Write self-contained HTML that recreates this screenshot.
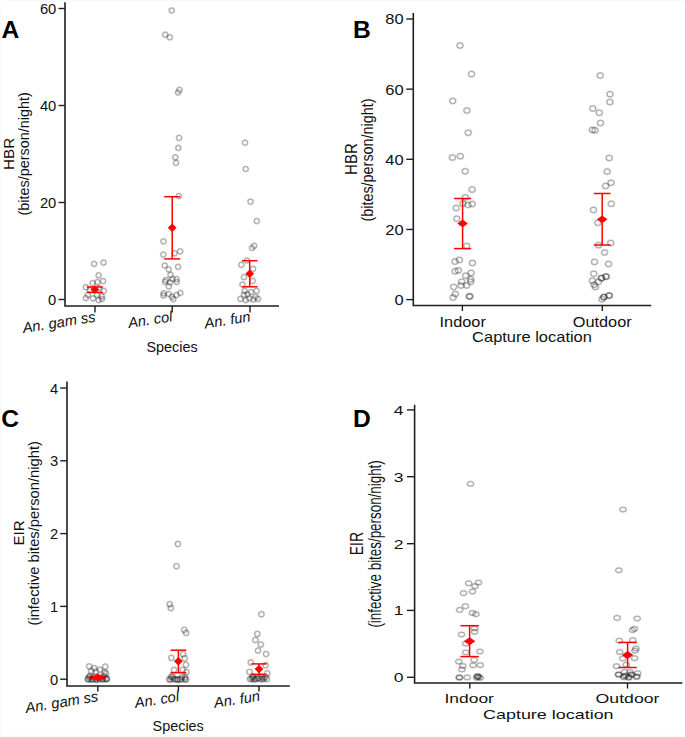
<!DOCTYPE html>
<html><head><meta charset="utf-8"><title>HBR and EIR plots</title>
<style>
html,body{margin:0;padding:0;background:#fff;overflow:hidden;}
svg{display:block;}
text{font-family:"Liberation Sans", sans-serif;}
</style></head><body>
<svg width="685" height="737" viewBox="0 0 685 737">
<rect width="685" height="737" fill="#fff"/>
<rect x="0" y="0" width="685" height="1" fill="#f9f9f9"/>
<rect x="0" y="735" width="685" height="2" fill="#fafafa"/>
<rect x="0" y="0" width="1" height="737" fill="#fbf9f9"/>
<g fill="none" stroke="#000" stroke-opacity="0.13" stroke-width="2.0">
<circle cx="94.1" cy="263.8" r="2.6"/>
<circle cx="103.5" cy="262.6" r="2.6"/>
<circle cx="98.6" cy="275.3" r="2.6"/>
<circle cx="92.6" cy="283.1" r="2.6"/>
<circle cx="97.4" cy="282.1" r="2.6"/>
<circle cx="103.1" cy="281.1" r="2.6"/>
<circle cx="85.8" cy="287.2" r="2.6"/>
<circle cx="103.8" cy="290.9" r="2.6"/>
<circle cx="87.9" cy="295" r="2.6"/>
<circle cx="85.8" cy="298.1" r="2.6"/>
<circle cx="93" cy="298.4" r="2.6"/>
<circle cx="97" cy="295" r="2.6"/>
<circle cx="101.8" cy="296.4" r="2.6"/>
<circle cx="98.7" cy="300.1" r="2.6"/>
<circle cx="102" cy="299" r="2.6"/>
<circle cx="90" cy="290" r="2.6"/>
<circle cx="99" cy="288" r="2.6"/>
<circle cx="171.7" cy="10.5" r="2.6"/>
<circle cx="165.3" cy="34.7" r="2.6"/>
<circle cx="169.8" cy="37.3" r="2.6"/>
<circle cx="179.5" cy="89.9" r="2.6"/>
<circle cx="178" cy="92.5" r="2.6"/>
<circle cx="179.1" cy="137.9" r="2.6"/>
<circle cx="178.3" cy="147.9" r="2.6"/>
<circle cx="175.3" cy="157.3" r="2.6"/>
<circle cx="176.0" cy="162.9" r="2.6"/>
<circle cx="178.8" cy="196.1" r="2.6"/>
<circle cx="163.5" cy="241.3" r="2.6"/>
<circle cx="163.3" cy="254.6" r="2.6"/>
<circle cx="174.5" cy="253.3" r="2.6"/>
<circle cx="180.2" cy="251.4" r="2.6"/>
<circle cx="164.7" cy="265.5" r="2.6"/>
<circle cx="178.1" cy="266.8" r="2.6"/>
<circle cx="168.8" cy="269.4" r="2.6"/>
<circle cx="170.5" cy="274.9" r="2.6"/>
<circle cx="165.0" cy="281.8" r="2.6"/>
<circle cx="166" cy="280" r="2.6"/>
<circle cx="170.1" cy="282.5" r="2.6"/>
<circle cx="172.4" cy="278.9" r="2.6"/>
<circle cx="176.5" cy="279.2" r="2.6"/>
<circle cx="176.7" cy="282" r="2.6"/>
<circle cx="168.8" cy="286.4" r="2.6"/>
<circle cx="163.7" cy="293.3" r="2.6"/>
<circle cx="163.4" cy="295.5" r="2.6"/>
<circle cx="168.8" cy="294" r="2.6"/>
<circle cx="171.9" cy="296.8" r="2.6"/>
<circle cx="173.4" cy="299.1" r="2.6"/>
<circle cx="176.5" cy="295" r="2.6"/>
<circle cx="180.3" cy="293" r="2.6"/>
<circle cx="245" cy="142.7" r="2.6"/>
<circle cx="245.7" cy="169" r="2.6"/>
<circle cx="250.5" cy="201.6" r="2.6"/>
<circle cx="256.8" cy="221.1" r="2.6"/>
<circle cx="254.2" cy="245.8" r="2.6"/>
<circle cx="252" cy="248" r="2.6"/>
<circle cx="241.4" cy="264.8" r="2.6"/>
<circle cx="253.1" cy="268.8" r="2.6"/>
<circle cx="244" cy="277.2" r="2.6"/>
<circle cx="252.7" cy="280.9" r="2.6"/>
<circle cx="242.5" cy="284.5" r="2.6"/>
<circle cx="244.6" cy="290.8" r="2.6"/>
<circle cx="256.6" cy="290.8" r="2.6"/>
<circle cx="244" cy="294.9" r="2.6"/>
<circle cx="247.5" cy="294.3" r="2.6"/>
<circle cx="251" cy="292" r="2.6"/>
<circle cx="240.5" cy="298.9" r="2.6"/>
<circle cx="245.8" cy="300.1" r="2.6"/>
<circle cx="249.3" cy="298.4" r="2.6"/>
<circle cx="253.4" cy="299.5" r="2.6"/>
<circle cx="258" cy="298.9" r="2.6"/>
<circle cx="255.5" cy="297" r="2.6"/>
<circle cx="247" cy="260.5" r="2.6"/>
<ellipse cx="460" cy="45.5" rx="3.1" ry="2.75"/>
<ellipse cx="471.5" cy="74.1" rx="3.1" ry="2.75"/>
<ellipse cx="452.7" cy="101" rx="3.1" ry="2.75"/>
<ellipse cx="466.9" cy="110.6" rx="3.1" ry="2.75"/>
<ellipse cx="468.2" cy="132.7" rx="3.1" ry="2.75"/>
<ellipse cx="452.4" cy="157.5" rx="3.1" ry="2.75"/>
<ellipse cx="460.3" cy="156.2" rx="3.1" ry="2.75"/>
<ellipse cx="465.2" cy="171.3" rx="3.1" ry="2.75"/>
<ellipse cx="472.1" cy="189.6" rx="3.1" ry="2.75"/>
<ellipse cx="465.4" cy="197.4" rx="3.1" ry="2.75"/>
<ellipse cx="462.9" cy="203.6" rx="3.1" ry="2.75"/>
<ellipse cx="467.9" cy="204.9" rx="3.1" ry="2.75"/>
<ellipse cx="472.2" cy="204" rx="3.1" ry="2.75"/>
<ellipse cx="456.2" cy="208" rx="3.1" ry="2.75"/>
<ellipse cx="456.8" cy="218.7" rx="3.1" ry="2.75"/>
<ellipse cx="466.7" cy="246" rx="3.1" ry="2.75"/>
<ellipse cx="454.9" cy="261.6" rx="3.1" ry="2.75"/>
<ellipse cx="459.4" cy="259.9" rx="3.1" ry="2.75"/>
<ellipse cx="472.4" cy="263" rx="3.1" ry="2.75"/>
<ellipse cx="455.1" cy="271.3" rx="3.1" ry="2.75"/>
<ellipse cx="458.4" cy="270.4" rx="3.1" ry="2.75"/>
<ellipse cx="465.8" cy="275.7" rx="3.1" ry="2.75"/>
<ellipse cx="471.1" cy="272.9" rx="3.1" ry="2.75"/>
<ellipse cx="470.7" cy="279.2" rx="3.1" ry="2.75"/>
<ellipse cx="470.7" cy="281.8" rx="3.1" ry="2.75"/>
<ellipse cx="461.7" cy="281.8" rx="3.1" ry="2.75"/>
<ellipse cx="461" cy="285.5" rx="3.1" ry="2.75"/>
<ellipse cx="466.7" cy="285.5" rx="3.1" ry="2.75"/>
<ellipse cx="453.6" cy="286.9" rx="3.1" ry="2.75"/>
<ellipse cx="455.3" cy="294" rx="3.1" ry="2.75"/>
<ellipse cx="453.1" cy="297.6" rx="3.1" ry="2.75"/>
<ellipse cx="469.3" cy="296.2" rx="3.1" ry="2.75"/>
<ellipse cx="469.8" cy="296.6" rx="3.1" ry="2.75"/>
<ellipse cx="600.2" cy="75.6" rx="3.1" ry="2.75"/>
<ellipse cx="610" cy="94.2" rx="3.1" ry="2.75"/>
<ellipse cx="609.9" cy="102.1" rx="3.1" ry="2.75"/>
<ellipse cx="592.8" cy="108.6" rx="3.1" ry="2.75"/>
<ellipse cx="599.3" cy="112.8" rx="3.1" ry="2.75"/>
<ellipse cx="600.5" cy="123" rx="3.1" ry="2.75"/>
<ellipse cx="592.3" cy="129.9" rx="3.1" ry="2.75"/>
<ellipse cx="595" cy="130.3" rx="3.1" ry="2.75"/>
<ellipse cx="609.2" cy="158" rx="3.1" ry="2.75"/>
<ellipse cx="607.2" cy="171.6" rx="3.1" ry="2.75"/>
<ellipse cx="611" cy="182.8" rx="3.1" ry="2.75"/>
<ellipse cx="605.6" cy="186" rx="3.1" ry="2.75"/>
<ellipse cx="611.2" cy="203.8" rx="3.1" ry="2.75"/>
<ellipse cx="593.5" cy="209.9" rx="3.1" ry="2.75"/>
<ellipse cx="597.9" cy="222.8" rx="3.1" ry="2.75"/>
<ellipse cx="598.5" cy="245.2" rx="3.1" ry="2.75"/>
<ellipse cx="610.7" cy="243" rx="3.1" ry="2.75"/>
<ellipse cx="604.6" cy="252.5" rx="3.1" ry="2.75"/>
<ellipse cx="594.5" cy="261.9" rx="3.1" ry="2.75"/>
<ellipse cx="608.5" cy="264" rx="3.1" ry="2.75"/>
<ellipse cx="593.8" cy="273.7" rx="3.1" ry="2.75"/>
<ellipse cx="601.4" cy="278.2" rx="3.1" ry="2.75"/>
<ellipse cx="605.9" cy="276.5" rx="3.1" ry="2.75"/>
<ellipse cx="601.6" cy="278.0" rx="3.1" ry="2.75"/>
<ellipse cx="606.1" cy="276.7" rx="3.1" ry="2.75"/>
<ellipse cx="598.5" cy="281.7" rx="3.1" ry="2.75"/>
<ellipse cx="592.3" cy="280.8" rx="3.1" ry="2.75"/>
<ellipse cx="594.1" cy="284.8" rx="3.1" ry="2.75"/>
<ellipse cx="595.4" cy="287" rx="3.1" ry="2.75"/>
<ellipse cx="609" cy="295.7" rx="3.1" ry="2.75"/>
<ellipse cx="603.7" cy="297" rx="3.1" ry="2.75"/>
<ellipse cx="602" cy="299.2" rx="3.1" ry="2.75"/>
<ellipse cx="609.2" cy="295.5" rx="3.1" ry="2.75"/>
<ellipse cx="603.9" cy="297.2" rx="3.1" ry="2.75"/>
<circle cx="89.2" cy="666.4" r="2.7"/>
<circle cx="105.3" cy="666.6" r="2.7"/>
<circle cx="94.3" cy="668.2" r="2.7"/>
<circle cx="99.9" cy="669.7" r="2.7"/>
<circle cx="91.2" cy="671" r="2.7"/>
<circle cx="95.8" cy="671.8" r="2.7"/>
<circle cx="104.5" cy="672.3" r="2.7"/>
<circle cx="106" cy="673.4" r="2.7"/>
<circle cx="88.2" cy="678.9" r="2.7"/>
<circle cx="92.3" cy="679.4" r="2.7"/>
<circle cx="97" cy="679.5" r="2.7"/>
<circle cx="102" cy="678.9" r="2.7"/>
<circle cx="106.6" cy="678.9" r="2.7"/>
<circle cx="90" cy="676" r="2.7"/>
<circle cx="104" cy="676" r="2.7"/>
<circle cx="87.8" cy="679.2" r="2.7"/>
<circle cx="90.5" cy="679.4" r="2.7"/>
<circle cx="93.5" cy="679.0" r="2.7"/>
<circle cx="96" cy="679.6" r="2.7"/>
<circle cx="99.5" cy="679.2" r="2.7"/>
<circle cx="103" cy="679.4" r="2.7"/>
<circle cx="105.5" cy="679.0" r="2.7"/>
<circle cx="107" cy="678.8" r="2.7"/>
<circle cx="89" cy="677" r="2.7"/>
<circle cx="100" cy="677.5" r="2.7"/>
<circle cx="95" cy="676.8" r="2.7"/>
<circle cx="177.9" cy="544" r="2.7"/>
<circle cx="176.5" cy="566.2" r="2.7"/>
<circle cx="169.7" cy="604.2" r="2.7"/>
<circle cx="170.8" cy="608" r="2.7"/>
<circle cx="184.2" cy="629.9" r="2.7"/>
<circle cx="186.1" cy="632.9" r="2.7"/>
<circle cx="171.4" cy="657.9" r="2.7"/>
<circle cx="183.1" cy="654.2" r="2.7"/>
<circle cx="184.6" cy="658.2" r="2.7"/>
<circle cx="186" cy="664.8" r="2.7"/>
<circle cx="174" cy="669.9" r="2.7"/>
<circle cx="182.7" cy="669.9" r="2.7"/>
<circle cx="186.4" cy="672.1" r="2.7"/>
<circle cx="169.2" cy="679.4" r="2.7"/>
<circle cx="173.2" cy="678.7" r="2.7"/>
<circle cx="176.9" cy="679.8" r="2.7"/>
<circle cx="179.8" cy="679.4" r="2.7"/>
<circle cx="184.9" cy="679.4" r="2.7"/>
<circle cx="172.5" cy="676.5" r="2.7"/>
<circle cx="182" cy="677" r="2.7"/>
<circle cx="170.5" cy="679.4" r="2.7"/>
<circle cx="175" cy="679.2" r="2.7"/>
<circle cx="178" cy="679.6" r="2.7"/>
<circle cx="181.5" cy="679.2" r="2.7"/>
<circle cx="186" cy="679.5" r="2.7"/>
<circle cx="171" cy="677" r="2.7"/>
<circle cx="185" cy="677.5" r="2.7"/>
<circle cx="261.4" cy="614.3" r="2.7"/>
<circle cx="257.3" cy="633.9" r="2.7"/>
<circle cx="255.4" cy="640" r="2.7"/>
<circle cx="260.8" cy="644.5" r="2.7"/>
<circle cx="258" cy="650.6" r="2.7"/>
<circle cx="266.1" cy="654" r="2.7"/>
<circle cx="250.8" cy="662.5" r="2.7"/>
<circle cx="249.5" cy="671.9" r="2.7"/>
<circle cx="267.2" cy="673.3" r="2.7"/>
<circle cx="265.5" cy="665.2" r="2.7"/>
<circle cx="252.8" cy="677.5" r="2.7"/>
<circle cx="255.3" cy="679" r="2.7"/>
<circle cx="258.9" cy="678" r="2.7"/>
<circle cx="262.5" cy="679" r="2.7"/>
<circle cx="265.5" cy="677" r="2.7"/>
<circle cx="250" cy="679" r="2.7"/>
<circle cx="251.5" cy="678.8" r="2.7"/>
<circle cx="254" cy="679.5" r="2.7"/>
<circle cx="257" cy="678.6" r="2.7"/>
<circle cx="260.5" cy="679.3" r="2.7"/>
<circle cx="264" cy="678.7" r="2.7"/>
<circle cx="267" cy="679" r="2.7"/>
<circle cx="253" cy="676.5" r="2.7"/>
<circle cx="262" cy="676.8" r="2.7"/>
<ellipse cx="470.5" cy="483.8" rx="3.2" ry="2.35"/>
<ellipse cx="468.7" cy="583.3" rx="3.2" ry="2.35"/>
<ellipse cx="478.5" cy="582.5" rx="3.2" ry="2.35"/>
<ellipse cx="475" cy="586.2" rx="3.2" ry="2.35"/>
<ellipse cx="472.4" cy="591.5" rx="3.2" ry="2.35"/>
<ellipse cx="463.5" cy="593.2" rx="3.2" ry="2.35"/>
<ellipse cx="465.4" cy="606.2" rx="3.2" ry="2.35"/>
<ellipse cx="459.7" cy="609.9" rx="3.2" ry="2.35"/>
<ellipse cx="472.4" cy="612.9" rx="3.2" ry="2.35"/>
<ellipse cx="475.9" cy="614.2" rx="3.2" ry="2.35"/>
<ellipse cx="474.6" cy="628.3" rx="3.2" ry="2.35"/>
<ellipse cx="474.6" cy="631.8" rx="3.2" ry="2.35"/>
<ellipse cx="461.5" cy="634.5" rx="3.2" ry="2.35"/>
<ellipse cx="465.8" cy="643.6" rx="3.2" ry="2.35"/>
<ellipse cx="465.8" cy="652.4" rx="3.2" ry="2.35"/>
<ellipse cx="479.9" cy="651.5" rx="3.2" ry="2.35"/>
<ellipse cx="474.2" cy="659.9" rx="3.2" ry="2.35"/>
<ellipse cx="458.8" cy="661.6" rx="3.2" ry="2.35"/>
<ellipse cx="462.8" cy="666" rx="3.2" ry="2.35"/>
<ellipse cx="461.9" cy="669.5" rx="3.2" ry="2.35"/>
<ellipse cx="473.1" cy="665.3" rx="3.2" ry="2.35"/>
<ellipse cx="480.3" cy="665.1" rx="3.2" ry="2.35"/>
<ellipse cx="459.3" cy="677.4" rx="3.2" ry="2.35"/>
<ellipse cx="467.2" cy="677.4" rx="3.2" ry="2.35"/>
<ellipse cx="477.7" cy="676.1" rx="3.2" ry="2.35"/>
<ellipse cx="476.8" cy="677.8" rx="3.2" ry="2.35"/>
<ellipse cx="480.3" cy="677.8" rx="3.2" ry="2.35"/>
<ellipse cx="459.5" cy="677.6" rx="3.2" ry="2.35"/>
<ellipse cx="477.4" cy="676.4" rx="3.2" ry="2.35"/>
<ellipse cx="478.6" cy="677.0" rx="3.2" ry="2.35"/>
<ellipse cx="623" cy="509.5" rx="3.2" ry="2.35"/>
<ellipse cx="618.8" cy="570.3" rx="3.2" ry="2.35"/>
<ellipse cx="617.1" cy="617.9" rx="3.2" ry="2.35"/>
<ellipse cx="637.2" cy="618.5" rx="3.2" ry="2.35"/>
<ellipse cx="632.4" cy="630.1" rx="3.2" ry="2.35"/>
<ellipse cx="634.6" cy="628.8" rx="3.2" ry="2.35"/>
<ellipse cx="619.3" cy="640.7" rx="3.2" ry="2.35"/>
<ellipse cx="632.8" cy="640.2" rx="3.2" ry="2.35"/>
<ellipse cx="635.9" cy="648.5" rx="3.2" ry="2.35"/>
<ellipse cx="635" cy="650.7" rx="3.2" ry="2.35"/>
<ellipse cx="619.7" cy="652" rx="3.2" ry="2.35"/>
<ellipse cx="622.8" cy="658.6" rx="3.2" ry="2.35"/>
<ellipse cx="634.6" cy="658.2" rx="3.2" ry="2.35"/>
<ellipse cx="616.6" cy="666.2" rx="3.2" ry="2.35"/>
<ellipse cx="626.3" cy="664.7" rx="3.2" ry="2.35"/>
<ellipse cx="618.4" cy="674.5" rx="3.2" ry="2.35"/>
<ellipse cx="624.1" cy="676.3" rx="3.2" ry="2.35"/>
<ellipse cx="628.9" cy="677.2" rx="3.2" ry="2.35"/>
<ellipse cx="631.1" cy="674.5" rx="3.2" ry="2.35"/>
<ellipse cx="636.8" cy="676.3" rx="3.2" ry="2.35"/>
<ellipse cx="637.7" cy="673.2" rx="3.2" ry="2.35"/>
<ellipse cx="624.5" cy="671.9" rx="3.2" ry="2.35"/>
<ellipse cx="630" cy="672" rx="3.2" ry="2.35"/>
<ellipse cx="618.8" cy="674.6" rx="3.2" ry="2.35"/>
<ellipse cx="623.7" cy="677.2" rx="3.2" ry="2.35"/>
<ellipse cx="628.6" cy="677.6" rx="3.2" ry="2.35"/>
<ellipse cx="631.7" cy="674.6" rx="3.2" ry="2.35"/>
<ellipse cx="636.6" cy="677.0" rx="3.2" ry="2.35"/>
<ellipse cx="626" cy="675.5" rx="3.2" ry="2.35"/>
</g>
<g fill="none" stroke="#000" stroke-opacity="0.28" stroke-width="0.9">
<circle cx="94.1" cy="263.8" r="2.6"/>
<circle cx="103.5" cy="262.6" r="2.6"/>
<circle cx="98.6" cy="275.3" r="2.6"/>
<circle cx="92.6" cy="283.1" r="2.6"/>
<circle cx="97.4" cy="282.1" r="2.6"/>
<circle cx="103.1" cy="281.1" r="2.6"/>
<circle cx="85.8" cy="287.2" r="2.6"/>
<circle cx="103.8" cy="290.9" r="2.6"/>
<circle cx="87.9" cy="295" r="2.6"/>
<circle cx="85.8" cy="298.1" r="2.6"/>
<circle cx="93" cy="298.4" r="2.6"/>
<circle cx="97" cy="295" r="2.6"/>
<circle cx="101.8" cy="296.4" r="2.6"/>
<circle cx="98.7" cy="300.1" r="2.6"/>
<circle cx="102" cy="299" r="2.6"/>
<circle cx="90" cy="290" r="2.6"/>
<circle cx="99" cy="288" r="2.6"/>
<circle cx="171.7" cy="10.5" r="2.6"/>
<circle cx="165.3" cy="34.7" r="2.6"/>
<circle cx="169.8" cy="37.3" r="2.6"/>
<circle cx="179.5" cy="89.9" r="2.6"/>
<circle cx="178" cy="92.5" r="2.6"/>
<circle cx="179.1" cy="137.9" r="2.6"/>
<circle cx="178.3" cy="147.9" r="2.6"/>
<circle cx="175.3" cy="157.3" r="2.6"/>
<circle cx="176.0" cy="162.9" r="2.6"/>
<circle cx="178.8" cy="196.1" r="2.6"/>
<circle cx="163.5" cy="241.3" r="2.6"/>
<circle cx="163.3" cy="254.6" r="2.6"/>
<circle cx="174.5" cy="253.3" r="2.6"/>
<circle cx="180.2" cy="251.4" r="2.6"/>
<circle cx="164.7" cy="265.5" r="2.6"/>
<circle cx="178.1" cy="266.8" r="2.6"/>
<circle cx="168.8" cy="269.4" r="2.6"/>
<circle cx="170.5" cy="274.9" r="2.6"/>
<circle cx="165.0" cy="281.8" r="2.6"/>
<circle cx="166" cy="280" r="2.6"/>
<circle cx="170.1" cy="282.5" r="2.6"/>
<circle cx="172.4" cy="278.9" r="2.6"/>
<circle cx="176.5" cy="279.2" r="2.6"/>
<circle cx="176.7" cy="282" r="2.6"/>
<circle cx="168.8" cy="286.4" r="2.6"/>
<circle cx="163.7" cy="293.3" r="2.6"/>
<circle cx="163.4" cy="295.5" r="2.6"/>
<circle cx="168.8" cy="294" r="2.6"/>
<circle cx="171.9" cy="296.8" r="2.6"/>
<circle cx="173.4" cy="299.1" r="2.6"/>
<circle cx="176.5" cy="295" r="2.6"/>
<circle cx="180.3" cy="293" r="2.6"/>
<circle cx="245" cy="142.7" r="2.6"/>
<circle cx="245.7" cy="169" r="2.6"/>
<circle cx="250.5" cy="201.6" r="2.6"/>
<circle cx="256.8" cy="221.1" r="2.6"/>
<circle cx="254.2" cy="245.8" r="2.6"/>
<circle cx="252" cy="248" r="2.6"/>
<circle cx="241.4" cy="264.8" r="2.6"/>
<circle cx="253.1" cy="268.8" r="2.6"/>
<circle cx="244" cy="277.2" r="2.6"/>
<circle cx="252.7" cy="280.9" r="2.6"/>
<circle cx="242.5" cy="284.5" r="2.6"/>
<circle cx="244.6" cy="290.8" r="2.6"/>
<circle cx="256.6" cy="290.8" r="2.6"/>
<circle cx="244" cy="294.9" r="2.6"/>
<circle cx="247.5" cy="294.3" r="2.6"/>
<circle cx="251" cy="292" r="2.6"/>
<circle cx="240.5" cy="298.9" r="2.6"/>
<circle cx="245.8" cy="300.1" r="2.6"/>
<circle cx="249.3" cy="298.4" r="2.6"/>
<circle cx="253.4" cy="299.5" r="2.6"/>
<circle cx="258" cy="298.9" r="2.6"/>
<circle cx="255.5" cy="297" r="2.6"/>
<circle cx="247" cy="260.5" r="2.6"/>
<ellipse cx="460" cy="45.5" rx="3.1" ry="2.75"/>
<ellipse cx="471.5" cy="74.1" rx="3.1" ry="2.75"/>
<ellipse cx="452.7" cy="101" rx="3.1" ry="2.75"/>
<ellipse cx="466.9" cy="110.6" rx="3.1" ry="2.75"/>
<ellipse cx="468.2" cy="132.7" rx="3.1" ry="2.75"/>
<ellipse cx="452.4" cy="157.5" rx="3.1" ry="2.75"/>
<ellipse cx="460.3" cy="156.2" rx="3.1" ry="2.75"/>
<ellipse cx="465.2" cy="171.3" rx="3.1" ry="2.75"/>
<ellipse cx="472.1" cy="189.6" rx="3.1" ry="2.75"/>
<ellipse cx="465.4" cy="197.4" rx="3.1" ry="2.75"/>
<ellipse cx="462.9" cy="203.6" rx="3.1" ry="2.75"/>
<ellipse cx="467.9" cy="204.9" rx="3.1" ry="2.75"/>
<ellipse cx="472.2" cy="204" rx="3.1" ry="2.75"/>
<ellipse cx="456.2" cy="208" rx="3.1" ry="2.75"/>
<ellipse cx="456.8" cy="218.7" rx="3.1" ry="2.75"/>
<ellipse cx="466.7" cy="246" rx="3.1" ry="2.75"/>
<ellipse cx="454.9" cy="261.6" rx="3.1" ry="2.75"/>
<ellipse cx="459.4" cy="259.9" rx="3.1" ry="2.75"/>
<ellipse cx="472.4" cy="263" rx="3.1" ry="2.75"/>
<ellipse cx="455.1" cy="271.3" rx="3.1" ry="2.75"/>
<ellipse cx="458.4" cy="270.4" rx="3.1" ry="2.75"/>
<ellipse cx="465.8" cy="275.7" rx="3.1" ry="2.75"/>
<ellipse cx="471.1" cy="272.9" rx="3.1" ry="2.75"/>
<ellipse cx="470.7" cy="279.2" rx="3.1" ry="2.75"/>
<ellipse cx="470.7" cy="281.8" rx="3.1" ry="2.75"/>
<ellipse cx="461.7" cy="281.8" rx="3.1" ry="2.75"/>
<ellipse cx="461" cy="285.5" rx="3.1" ry="2.75"/>
<ellipse cx="466.7" cy="285.5" rx="3.1" ry="2.75"/>
<ellipse cx="453.6" cy="286.9" rx="3.1" ry="2.75"/>
<ellipse cx="455.3" cy="294" rx="3.1" ry="2.75"/>
<ellipse cx="453.1" cy="297.6" rx="3.1" ry="2.75"/>
<ellipse cx="469.3" cy="296.2" rx="3.1" ry="2.75"/>
<ellipse cx="469.8" cy="296.6" rx="3.1" ry="2.75"/>
<ellipse cx="600.2" cy="75.6" rx="3.1" ry="2.75"/>
<ellipse cx="610" cy="94.2" rx="3.1" ry="2.75"/>
<ellipse cx="609.9" cy="102.1" rx="3.1" ry="2.75"/>
<ellipse cx="592.8" cy="108.6" rx="3.1" ry="2.75"/>
<ellipse cx="599.3" cy="112.8" rx="3.1" ry="2.75"/>
<ellipse cx="600.5" cy="123" rx="3.1" ry="2.75"/>
<ellipse cx="592.3" cy="129.9" rx="3.1" ry="2.75"/>
<ellipse cx="595" cy="130.3" rx="3.1" ry="2.75"/>
<ellipse cx="609.2" cy="158" rx="3.1" ry="2.75"/>
<ellipse cx="607.2" cy="171.6" rx="3.1" ry="2.75"/>
<ellipse cx="611" cy="182.8" rx="3.1" ry="2.75"/>
<ellipse cx="605.6" cy="186" rx="3.1" ry="2.75"/>
<ellipse cx="611.2" cy="203.8" rx="3.1" ry="2.75"/>
<ellipse cx="593.5" cy="209.9" rx="3.1" ry="2.75"/>
<ellipse cx="597.9" cy="222.8" rx="3.1" ry="2.75"/>
<ellipse cx="598.5" cy="245.2" rx="3.1" ry="2.75"/>
<ellipse cx="610.7" cy="243" rx="3.1" ry="2.75"/>
<ellipse cx="604.6" cy="252.5" rx="3.1" ry="2.75"/>
<ellipse cx="594.5" cy="261.9" rx="3.1" ry="2.75"/>
<ellipse cx="608.5" cy="264" rx="3.1" ry="2.75"/>
<ellipse cx="593.8" cy="273.7" rx="3.1" ry="2.75"/>
<ellipse cx="601.4" cy="278.2" rx="3.1" ry="2.75"/>
<ellipse cx="605.9" cy="276.5" rx="3.1" ry="2.75"/>
<ellipse cx="601.6" cy="278.0" rx="3.1" ry="2.75"/>
<ellipse cx="606.1" cy="276.7" rx="3.1" ry="2.75"/>
<ellipse cx="598.5" cy="281.7" rx="3.1" ry="2.75"/>
<ellipse cx="592.3" cy="280.8" rx="3.1" ry="2.75"/>
<ellipse cx="594.1" cy="284.8" rx="3.1" ry="2.75"/>
<ellipse cx="595.4" cy="287" rx="3.1" ry="2.75"/>
<ellipse cx="609" cy="295.7" rx="3.1" ry="2.75"/>
<ellipse cx="603.7" cy="297" rx="3.1" ry="2.75"/>
<ellipse cx="602" cy="299.2" rx="3.1" ry="2.75"/>
<ellipse cx="609.2" cy="295.5" rx="3.1" ry="2.75"/>
<ellipse cx="603.9" cy="297.2" rx="3.1" ry="2.75"/>
<circle cx="89.2" cy="666.4" r="2.7"/>
<circle cx="105.3" cy="666.6" r="2.7"/>
<circle cx="94.3" cy="668.2" r="2.7"/>
<circle cx="99.9" cy="669.7" r="2.7"/>
<circle cx="91.2" cy="671" r="2.7"/>
<circle cx="95.8" cy="671.8" r="2.7"/>
<circle cx="104.5" cy="672.3" r="2.7"/>
<circle cx="106" cy="673.4" r="2.7"/>
<circle cx="88.2" cy="678.9" r="2.7"/>
<circle cx="92.3" cy="679.4" r="2.7"/>
<circle cx="97" cy="679.5" r="2.7"/>
<circle cx="102" cy="678.9" r="2.7"/>
<circle cx="106.6" cy="678.9" r="2.7"/>
<circle cx="90" cy="676" r="2.7"/>
<circle cx="104" cy="676" r="2.7"/>
<circle cx="87.8" cy="679.2" r="2.7"/>
<circle cx="90.5" cy="679.4" r="2.7"/>
<circle cx="93.5" cy="679.0" r="2.7"/>
<circle cx="96" cy="679.6" r="2.7"/>
<circle cx="99.5" cy="679.2" r="2.7"/>
<circle cx="103" cy="679.4" r="2.7"/>
<circle cx="105.5" cy="679.0" r="2.7"/>
<circle cx="107" cy="678.8" r="2.7"/>
<circle cx="89" cy="677" r="2.7"/>
<circle cx="100" cy="677.5" r="2.7"/>
<circle cx="95" cy="676.8" r="2.7"/>
<circle cx="177.9" cy="544" r="2.7"/>
<circle cx="176.5" cy="566.2" r="2.7"/>
<circle cx="169.7" cy="604.2" r="2.7"/>
<circle cx="170.8" cy="608" r="2.7"/>
<circle cx="184.2" cy="629.9" r="2.7"/>
<circle cx="186.1" cy="632.9" r="2.7"/>
<circle cx="171.4" cy="657.9" r="2.7"/>
<circle cx="183.1" cy="654.2" r="2.7"/>
<circle cx="184.6" cy="658.2" r="2.7"/>
<circle cx="186" cy="664.8" r="2.7"/>
<circle cx="174" cy="669.9" r="2.7"/>
<circle cx="182.7" cy="669.9" r="2.7"/>
<circle cx="186.4" cy="672.1" r="2.7"/>
<circle cx="169.2" cy="679.4" r="2.7"/>
<circle cx="173.2" cy="678.7" r="2.7"/>
<circle cx="176.9" cy="679.8" r="2.7"/>
<circle cx="179.8" cy="679.4" r="2.7"/>
<circle cx="184.9" cy="679.4" r="2.7"/>
<circle cx="172.5" cy="676.5" r="2.7"/>
<circle cx="182" cy="677" r="2.7"/>
<circle cx="170.5" cy="679.4" r="2.7"/>
<circle cx="175" cy="679.2" r="2.7"/>
<circle cx="178" cy="679.6" r="2.7"/>
<circle cx="181.5" cy="679.2" r="2.7"/>
<circle cx="186" cy="679.5" r="2.7"/>
<circle cx="171" cy="677" r="2.7"/>
<circle cx="185" cy="677.5" r="2.7"/>
<circle cx="261.4" cy="614.3" r="2.7"/>
<circle cx="257.3" cy="633.9" r="2.7"/>
<circle cx="255.4" cy="640" r="2.7"/>
<circle cx="260.8" cy="644.5" r="2.7"/>
<circle cx="258" cy="650.6" r="2.7"/>
<circle cx="266.1" cy="654" r="2.7"/>
<circle cx="250.8" cy="662.5" r="2.7"/>
<circle cx="249.5" cy="671.9" r="2.7"/>
<circle cx="267.2" cy="673.3" r="2.7"/>
<circle cx="265.5" cy="665.2" r="2.7"/>
<circle cx="252.8" cy="677.5" r="2.7"/>
<circle cx="255.3" cy="679" r="2.7"/>
<circle cx="258.9" cy="678" r="2.7"/>
<circle cx="262.5" cy="679" r="2.7"/>
<circle cx="265.5" cy="677" r="2.7"/>
<circle cx="250" cy="679" r="2.7"/>
<circle cx="251.5" cy="678.8" r="2.7"/>
<circle cx="254" cy="679.5" r="2.7"/>
<circle cx="257" cy="678.6" r="2.7"/>
<circle cx="260.5" cy="679.3" r="2.7"/>
<circle cx="264" cy="678.7" r="2.7"/>
<circle cx="267" cy="679" r="2.7"/>
<circle cx="253" cy="676.5" r="2.7"/>
<circle cx="262" cy="676.8" r="2.7"/>
<ellipse cx="470.5" cy="483.8" rx="3.2" ry="2.35"/>
<ellipse cx="468.7" cy="583.3" rx="3.2" ry="2.35"/>
<ellipse cx="478.5" cy="582.5" rx="3.2" ry="2.35"/>
<ellipse cx="475" cy="586.2" rx="3.2" ry="2.35"/>
<ellipse cx="472.4" cy="591.5" rx="3.2" ry="2.35"/>
<ellipse cx="463.5" cy="593.2" rx="3.2" ry="2.35"/>
<ellipse cx="465.4" cy="606.2" rx="3.2" ry="2.35"/>
<ellipse cx="459.7" cy="609.9" rx="3.2" ry="2.35"/>
<ellipse cx="472.4" cy="612.9" rx="3.2" ry="2.35"/>
<ellipse cx="475.9" cy="614.2" rx="3.2" ry="2.35"/>
<ellipse cx="474.6" cy="628.3" rx="3.2" ry="2.35"/>
<ellipse cx="474.6" cy="631.8" rx="3.2" ry="2.35"/>
<ellipse cx="461.5" cy="634.5" rx="3.2" ry="2.35"/>
<ellipse cx="465.8" cy="643.6" rx="3.2" ry="2.35"/>
<ellipse cx="465.8" cy="652.4" rx="3.2" ry="2.35"/>
<ellipse cx="479.9" cy="651.5" rx="3.2" ry="2.35"/>
<ellipse cx="474.2" cy="659.9" rx="3.2" ry="2.35"/>
<ellipse cx="458.8" cy="661.6" rx="3.2" ry="2.35"/>
<ellipse cx="462.8" cy="666" rx="3.2" ry="2.35"/>
<ellipse cx="461.9" cy="669.5" rx="3.2" ry="2.35"/>
<ellipse cx="473.1" cy="665.3" rx="3.2" ry="2.35"/>
<ellipse cx="480.3" cy="665.1" rx="3.2" ry="2.35"/>
<ellipse cx="459.3" cy="677.4" rx="3.2" ry="2.35"/>
<ellipse cx="467.2" cy="677.4" rx="3.2" ry="2.35"/>
<ellipse cx="477.7" cy="676.1" rx="3.2" ry="2.35"/>
<ellipse cx="476.8" cy="677.8" rx="3.2" ry="2.35"/>
<ellipse cx="480.3" cy="677.8" rx="3.2" ry="2.35"/>
<ellipse cx="459.5" cy="677.6" rx="3.2" ry="2.35"/>
<ellipse cx="477.4" cy="676.4" rx="3.2" ry="2.35"/>
<ellipse cx="478.6" cy="677.0" rx="3.2" ry="2.35"/>
<ellipse cx="623" cy="509.5" rx="3.2" ry="2.35"/>
<ellipse cx="618.8" cy="570.3" rx="3.2" ry="2.35"/>
<ellipse cx="617.1" cy="617.9" rx="3.2" ry="2.35"/>
<ellipse cx="637.2" cy="618.5" rx="3.2" ry="2.35"/>
<ellipse cx="632.4" cy="630.1" rx="3.2" ry="2.35"/>
<ellipse cx="634.6" cy="628.8" rx="3.2" ry="2.35"/>
<ellipse cx="619.3" cy="640.7" rx="3.2" ry="2.35"/>
<ellipse cx="632.8" cy="640.2" rx="3.2" ry="2.35"/>
<ellipse cx="635.9" cy="648.5" rx="3.2" ry="2.35"/>
<ellipse cx="635" cy="650.7" rx="3.2" ry="2.35"/>
<ellipse cx="619.7" cy="652" rx="3.2" ry="2.35"/>
<ellipse cx="622.8" cy="658.6" rx="3.2" ry="2.35"/>
<ellipse cx="634.6" cy="658.2" rx="3.2" ry="2.35"/>
<ellipse cx="616.6" cy="666.2" rx="3.2" ry="2.35"/>
<ellipse cx="626.3" cy="664.7" rx="3.2" ry="2.35"/>
<ellipse cx="618.4" cy="674.5" rx="3.2" ry="2.35"/>
<ellipse cx="624.1" cy="676.3" rx="3.2" ry="2.35"/>
<ellipse cx="628.9" cy="677.2" rx="3.2" ry="2.35"/>
<ellipse cx="631.1" cy="674.5" rx="3.2" ry="2.35"/>
<ellipse cx="636.8" cy="676.3" rx="3.2" ry="2.35"/>
<ellipse cx="637.7" cy="673.2" rx="3.2" ry="2.35"/>
<ellipse cx="624.5" cy="671.9" rx="3.2" ry="2.35"/>
<ellipse cx="630" cy="672" rx="3.2" ry="2.35"/>
<ellipse cx="618.8" cy="674.6" rx="3.2" ry="2.35"/>
<ellipse cx="623.7" cy="677.2" rx="3.2" ry="2.35"/>
<ellipse cx="628.6" cy="677.6" rx="3.2" ry="2.35"/>
<ellipse cx="631.7" cy="674.6" rx="3.2" ry="2.35"/>
<ellipse cx="636.6" cy="677.0" rx="3.2" ry="2.35"/>
<ellipse cx="626" cy="675.5" rx="3.2" ry="2.35"/>
</g>
<g stroke="#ff0000" stroke-width="1.5" fill="none"><line x1="94.8" y1="287.0" x2="94.8" y2="292.4"/><line x1="86.8" y1="287.0" x2="102.8" y2="287.0"/><line x1="86.8" y1="292.4" x2="102.8" y2="292.4"/></g>
<path d="M94.8,285.2L99.2,289.4L94.8,293.59999999999997L90.39999999999999,289.4Z" fill="#ff0000"/>
<g stroke="#ff0000" stroke-width="1.5" fill="none"><line x1="172.2" y1="196.7" x2="172.2" y2="258.9"/><line x1="164.2" y1="196.7" x2="180.2" y2="196.7"/><line x1="164.2" y1="258.9" x2="180.2" y2="258.9"/></g>
<path d="M172.2,223.60000000000002L176.6,227.8L172.2,232.0L167.79999999999998,227.8Z" fill="#ff0000"/>
<g stroke="#ff0000" stroke-width="1.5" fill="none"><line x1="249.7" y1="260.7" x2="249.7" y2="286.8"/><line x1="241.89999999999998" y1="260.7" x2="257.5" y2="260.7"/><line x1="241.89999999999998" y1="286.8" x2="257.5" y2="286.8"/></g>
<path d="M249.7,269.5L254.1,273.7L249.7,277.9L245.29999999999998,273.7Z" fill="#ff0000"/>
<g stroke="#ff0000" stroke-width="1.5" fill="none"><line x1="462.6" y1="198.5" x2="462.6" y2="248.6"/><line x1="454.0" y1="198.5" x2="471.20000000000005" y2="198.5"/><line x1="454.0" y1="248.6" x2="471.20000000000005" y2="248.6"/></g>
<path d="M462.6,219.6L467.90000000000003,223.5L462.6,227.4L457.3,223.5Z" fill="#ff0000"/>
<g stroke="#ff0000" stroke-width="1.5" fill="none"><line x1="602.2" y1="193.5" x2="602.2" y2="245.0"/><line x1="593.8000000000001" y1="193.5" x2="610.6" y2="193.5"/><line x1="593.8000000000001" y1="245.0" x2="610.6" y2="245.0"/></g>
<path d="M602.2,215.4L607.5,219.3L602.2,223.20000000000002L596.9000000000001,219.3Z" fill="#ff0000"/>
<g stroke="#ff0000" stroke-width="1.5" fill="none"><line x1="97.6" y1="676.1" x2="97.6" y2="678.9"/><line x1="89.6" y1="676.1" x2="105.6" y2="676.1"/><line x1="89.6" y1="678.9" x2="105.6" y2="678.9"/></g>
<path d="M97.6,673.0L101.6,677.4L97.6,681.8L93.6,677.4Z" fill="#ff0000"/>
<g stroke="#ff0000" stroke-width="1.5" fill="none"><line x1="178.4" y1="650.2" x2="178.4" y2="672.7"/><line x1="170.5" y1="650.2" x2="186.3" y2="650.2"/><line x1="170.5" y1="672.7" x2="186.3" y2="672.7"/></g>
<path d="M178.4,657.0999999999999L182.8,661.3L178.4,665.5L174.0,661.3Z" fill="#ff0000"/>
<g stroke="#ff0000" stroke-width="1.5" fill="none"><line x1="259.0" y1="663.9" x2="259.0" y2="674.4"/><line x1="251.3" y1="663.9" x2="266.7" y2="663.9"/><line x1="251.3" y1="674.4" x2="266.7" y2="674.4"/></g>
<path d="M259.0,664.9L263.4,669.1L259.0,673.3000000000001L254.6,669.1Z" fill="#ff0000"/>
<g stroke="#ff0000" stroke-width="1.5" fill="none"><line x1="469.6" y1="625.7" x2="469.6" y2="656.6"/><line x1="460.40000000000003" y1="625.7" x2="478.8" y2="625.7"/><line x1="460.40000000000003" y1="656.6" x2="478.8" y2="656.6"/></g>
<path d="M469.6,637.2L475.40000000000003,641.2L469.6,645.2L463.8,641.2Z" fill="#ff0000"/>
<g stroke="#ff0000" stroke-width="1.5" fill="none"><line x1="627.6" y1="642.4" x2="627.6" y2="667.5"/><line x1="618.4" y1="642.4" x2="636.8000000000001" y2="642.4"/><line x1="618.4" y1="667.5" x2="636.8000000000001" y2="667.5"/></g>
<path d="M627.6,650.9L633.4,654.9L627.6,658.9L621.8000000000001,654.9Z" fill="#ff0000"/>
<g font-family='"Liberation Sans", sans-serif' fill="#111">
<path d="M65,2.2V306H279" fill="none" stroke="#1e1e1e" stroke-width="1.6" stroke-linejoin="miter"/>
<line x1="58.5" y1="8.5" x2="65" y2="8.5" stroke="#1e1e1e" stroke-width="1.4"/>
<text transform="translate(56.3,14.35) scale(0.965,1)" text-anchor="end" font-size="15.3">60</text>
<line x1="58.5" y1="105.5" x2="65" y2="105.5" stroke="#1e1e1e" stroke-width="1.4"/>
<text transform="translate(56.3,111.35) scale(0.965,1)" text-anchor="end" font-size="15.3">40</text>
<line x1="58.5" y1="202.5" x2="65" y2="202.5" stroke="#1e1e1e" stroke-width="1.4"/>
<text transform="translate(56.3,208.35) scale(0.965,1)" text-anchor="end" font-size="15.3">20</text>
<line x1="58.5" y1="299.5" x2="65" y2="299.5" stroke="#1e1e1e" stroke-width="1.4"/>
<text transform="translate(56.3,305.35) scale(0.965,1)" text-anchor="end" font-size="15.3">0</text>
<line x1="95" y1="306" x2="95" y2="312.6" stroke="#1e1e1e" stroke-width="1.4"/>
<line x1="172.2" y1="306" x2="172.2" y2="312.6" stroke="#1e1e1e" stroke-width="1.4"/>
<line x1="250" y1="306" x2="250" y2="312.6" stroke="#1e1e1e" stroke-width="1.4"/>
<path d="M413.3,13.1V305.5H651.2" fill="none" stroke="#1e1e1e" stroke-width="1.6" stroke-linejoin="miter"/>
<line x1="406.3" y1="19.0" x2="413.3" y2="19.0" stroke="#1e1e1e" stroke-width="1.4"/>
<text transform="translate(403.7,24.4) scale(1.1,1)" text-anchor="end" font-size="15.0">80</text>
<line x1="406.3" y1="89.15" x2="413.3" y2="89.15" stroke="#1e1e1e" stroke-width="1.4"/>
<text transform="translate(403.7,94.55000000000001) scale(1.1,1)" text-anchor="end" font-size="15.0">60</text>
<line x1="406.3" y1="159.3" x2="413.3" y2="159.3" stroke="#1e1e1e" stroke-width="1.4"/>
<text transform="translate(403.7,164.70000000000002) scale(1.1,1)" text-anchor="end" font-size="15.0">40</text>
<line x1="406.3" y1="229.45" x2="413.3" y2="229.45" stroke="#1e1e1e" stroke-width="1.4"/>
<text transform="translate(403.7,234.85) scale(1.1,1)" text-anchor="end" font-size="15.0">20</text>
<line x1="406.3" y1="299.6" x2="413.3" y2="299.6" stroke="#1e1e1e" stroke-width="1.4"/>
<text transform="translate(403.7,305.0) scale(1.1,1)" text-anchor="end" font-size="15.0">0</text>
<line x1="462.4" y1="305.5" x2="462.4" y2="311.0" stroke="#1e1e1e" stroke-width="1.4"/>
<line x1="602.3" y1="305.5" x2="602.3" y2="311.0" stroke="#1e1e1e" stroke-width="1.4"/>
<path d="M67,381.4V686.0H289.8" fill="none" stroke="#1e1e1e" stroke-width="1.6" stroke-linejoin="miter"/>
<line x1="60.2" y1="388" x2="67" y2="388" stroke="#1e1e1e" stroke-width="1.4"/>
<text transform="translate(58.2,393.6) scale(0.965,1)" text-anchor="end" font-size="15.3">4</text>
<line x1="60.2" y1="460.8" x2="67" y2="460.8" stroke="#1e1e1e" stroke-width="1.4"/>
<text transform="translate(58.2,466.40000000000003) scale(0.965,1)" text-anchor="end" font-size="15.3">3</text>
<line x1="60.2" y1="533.6" x2="67" y2="533.6" stroke="#1e1e1e" stroke-width="1.4"/>
<text transform="translate(58.2,539.2) scale(0.965,1)" text-anchor="end" font-size="15.3">2</text>
<line x1="60.2" y1="606.4" x2="67" y2="606.4" stroke="#1e1e1e" stroke-width="1.4"/>
<text transform="translate(58.2,612.0) scale(0.965,1)" text-anchor="end" font-size="15.3">1</text>
<line x1="60.2" y1="679.2" x2="67" y2="679.2" stroke="#1e1e1e" stroke-width="1.4"/>
<text transform="translate(58.2,684.8000000000001) scale(0.965,1)" text-anchor="end" font-size="15.3">0</text>
<line x1="97.8" y1="686.0" x2="97.8" y2="691.5" stroke="#1e1e1e" stroke-width="1.4"/>
<line x1="178.4" y1="686.0" x2="178.4" y2="691.5" stroke="#1e1e1e" stroke-width="1.4"/>
<line x1="259" y1="686.0" x2="259" y2="691.5" stroke="#1e1e1e" stroke-width="1.4"/>
<path d="M414.6,404.7V683.0H682.4" fill="none" stroke="#1e1e1e" stroke-width="1.6" stroke-linejoin="miter"/>
<line x1="407.0" y1="409.9" x2="414.6" y2="409.9" stroke="#1e1e1e" stroke-width="1.4"/>
<text transform="translate(403.4,414.79999999999995) scale(1.3,1)" text-anchor="end" font-size="13.5">4</text>
<line x1="407.0" y1="476.7" x2="414.6" y2="476.7" stroke="#1e1e1e" stroke-width="1.4"/>
<text transform="translate(403.4,481.59999999999997) scale(1.3,1)" text-anchor="end" font-size="13.5">3</text>
<line x1="407.0" y1="543.7" x2="414.6" y2="543.7" stroke="#1e1e1e" stroke-width="1.4"/>
<text transform="translate(403.4,548.6) scale(1.3,1)" text-anchor="end" font-size="13.5">2</text>
<line x1="407.0" y1="610.4" x2="414.6" y2="610.4" stroke="#1e1e1e" stroke-width="1.4"/>
<text transform="translate(403.4,615.3) scale(1.3,1)" text-anchor="end" font-size="13.5">1</text>
<line x1="407.0" y1="677.3" x2="414.6" y2="677.3" stroke="#1e1e1e" stroke-width="1.4"/>
<text transform="translate(403.4,682.1999999999999) scale(1.3,1)" text-anchor="end" font-size="13.5">0</text>
<line x1="469.8" y1="683.0" x2="469.8" y2="688.5" stroke="#1e1e1e" stroke-width="1.4"/>
<line x1="627.5" y1="683.0" x2="627.5" y2="688.5" stroke="#1e1e1e" stroke-width="1.4"/>
<text transform="translate(96.0,321.5) rotate(-9) scale(1.0,1)" text-anchor="end" font-style="italic" font-size="14.7">An. gam ss</text>
<text transform="translate(173.0,321.1) rotate(-9) scale(1.0,1)" text-anchor="end" font-style="italic" font-size="14.6">An. col</text>
<text transform="translate(251.0,321.2) rotate(-9) scale(1.0,1)" text-anchor="end" font-style="italic" font-size="14.6">An. fun</text>
<text transform="translate(98.8,701.0) rotate(-9.4) scale(1.0,1)" text-anchor="end" font-style="italic" font-size="14.7">An. gam ss</text>
<text transform="translate(179.6,701.0) rotate(-9) scale(1.0,1)" text-anchor="end" font-style="italic" font-size="14.6">An. col</text>
<text transform="translate(260.5,700.6) rotate(-9) scale(1.0,1)" text-anchor="end" font-style="italic" font-size="14.6">An. fun</text>
<text transform="translate(172,351.7) scale(1.0,1.0)" text-anchor="middle" font-size="14.4" font-weight="normal">Species</text>
<text transform="translate(178.2,730.5) scale(1.0,1.0)" text-anchor="middle" font-size="14.4" font-weight="normal">Species</text>
<text transform="translate(462.7,326.6) scale(1.15,1.0)" text-anchor="middle" font-size="14.2" font-weight="normal">Indoor</text>
<text transform="translate(602.2,326.6) scale(1.15,1.0)" text-anchor="middle" font-size="14.2" font-weight="normal">Outdoor</text>
<text transform="translate(532,342.4) scale(1.16,1.0)" text-anchor="middle" font-size="14.2" font-weight="normal">Capture location</text>
<text transform="translate(469.2,702.9) scale(1.34,1.0)" text-anchor="middle" font-size="13.0" font-weight="normal">Indoor</text>
<text transform="translate(627.5,702.8) scale(1.36,1.0)" text-anchor="middle" font-size="13.0" font-weight="normal">Outdoor</text>
<text transform="translate(548.3,718.5) scale(1.38,1.0)" text-anchor="middle" font-size="13.0" font-weight="normal">Capture location</text>
<text transform="translate(13.7,153.9) rotate(-90) scale(1.0,1.0)" text-anchor="middle" font-size="15.2">HBR</text>
<text transform="translate(28.5,153.9) rotate(-90) scale(1.0,1.0)" text-anchor="middle" font-size="14.4">(bites/person/night)</text>
<text transform="translate(357.0,159.1) rotate(-90) scale(1.0,1.08)" text-anchor="middle" font-size="15.0">HBR</text>
<text transform="translate(373.3,160.0) rotate(-90) scale(1.0,1.1)" text-anchor="middle" font-size="14.4">(bites/person/night)</text>
<text transform="translate(24.2,532.9) rotate(-90) scale(1.0,1.0)" text-anchor="middle" font-size="15.1">EIR</text>
<text transform="translate(38.6,533.3) rotate(-90) scale(1.0,1.0)" text-anchor="middle" font-size="14.75">(infective bites/person/night)</text>
<text transform="translate(363.2,543.6) rotate(-90) scale(0.94,1.2)" text-anchor="middle" font-size="14.8">EIR</text>
<text transform="translate(381.2,543.9) rotate(-90) scale(0.93,1.22)" text-anchor="middle" font-size="14.4">(infective bites/person/night)</text>
<text x="1.6" y="38" font-size="24.6" font-weight="bold" fill="#000">A</text>
<text x="353.0" y="38.2" font-size="24.6" font-weight="bold" fill="#000">B</text>
<text x="1.2" y="426.8" font-size="24.6" font-weight="bold" fill="#000">C</text>
<text x="353.0" y="426.9" font-size="24.6" font-weight="bold" fill="#000">D</text>
</g>
</svg>
</body></html>
